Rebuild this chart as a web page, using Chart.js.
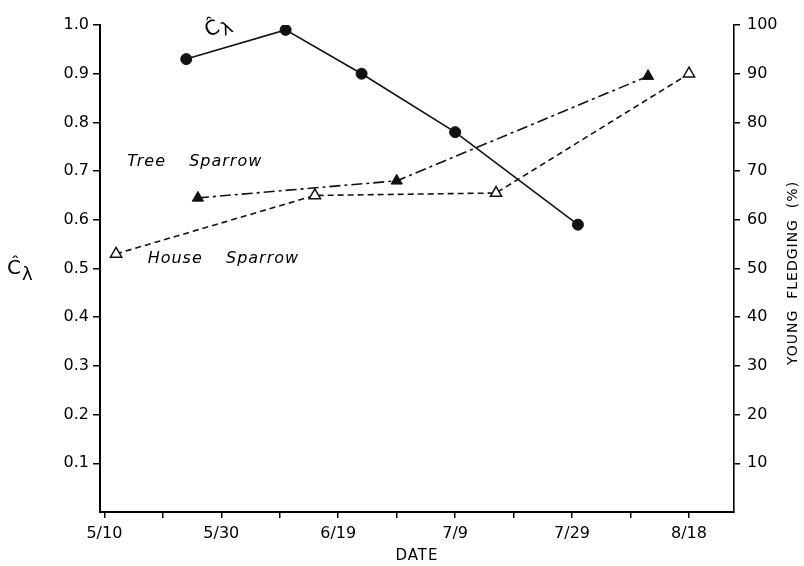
<!DOCTYPE html>
<html>
<head>
<meta charset="utf-8">
<script src="https://cdn.jsdelivr.net/npm/chart.js@4/dist/chart.umd.min.js"></script>
<style>
  html, body { margin: 0; padding: 0; background: #fff; }
  #wrap { width: 804px; height: 566px; position: relative; }
</style>
</head>
<body>
<div id="wrap"><canvas id="c" width="804" height="566"></canvas></div>
<script>
// ---- data (x = days after 5/10) ----
const xTickDays   = [0, 10, 20, 30, 40, 50, 60, 70, 80, 90, 100];
const xTickLabels = ['5/10', '', '5/30', '', '6/19', '', '7/9', '', '7/29', '', '8/18'];
const leftTicks   = [0.1, 0.2, 0.3, 0.4, 0.5, 0.6, 0.7, 0.8, 0.9, 1.0];
const rightTicks  = [10, 20, 30, 40, 50, 60, 70, 80, 90, 100];

const cDays     = [14, 31, 44, 60, 81];
const cValues   = [0.93, 0.99, 0.90, 0.78, 0.59];
const treeDays  = [16, 50, 93];
const treeValues= [64.5, 68, 89.5];
const houseDays = [2, 36, 67, 100];
const houseValues = [53, 65, 65.5, 90];

const toPts = (xs, ys) => xs.map((x, i) => ({ x: x, y: ys[i] }));

const FONT = '"DejaVu Sans", sans-serif';

const textPlugin = {
  id: 'texts',
  afterDraw(chart) {
    const ctx = chart.ctx;
    const xs = chart.scales.x, yl = chart.scales.y;
    ctx.save();
    ctx.fillStyle = '#000';
    // italic species labels (data-anchored)
    ctx.font = 'italic 16px ' + FONT;
    ctx.textBaseline = 'middle';
    ctx.textAlign = 'left';
    try { ctx.letterSpacing = '1px'; } catch (e) {}
    ctx.fillText('Tree', xs.getPixelForValue(3.9), yl.getPixelForValue(0.72));
    ctx.fillText('Sparrow', xs.getPixelForValue(14.5), yl.getPixelForValue(0.72));
    ctx.fillText('House', xs.getPixelForValue(7.4), yl.getPixelForValue(0.519));
    ctx.fillText('Sparrow', xs.getPixelForValue(20.8), yl.getPixelForValue(0.519));
    try { ctx.letterSpacing = '0px'; } catch (e) {}

    // C-hat lambda label
    const drawC = (x, y, rot, size) => {
      ctx.save();
      ctx.translate(x, y);
      ctx.rotate(rot);
      ctx.textAlign = 'left';
      ctx.textBaseline = 'alphabetic';
      ctx.font = size + 'px ' + FONT;
      ctx.fillText('\u0108', 0, 0);
      const w = ctx.measureText('\u0108').width;
      ctx.font = Math.round(size * 0.9) + 'px ' + FONT;
      ctx.fillText('\u03BB', w + 1, size * 0.3);
      ctx.restore();
    };
    drawC(xs.getPixelForValue(17.8), yl.getPixelForValue(0.975), -0.45, 20);
    drawC(7, 274, 0, 20);

    // x-axis title
    ctx.font = '15px ' + FONT;
    ctx.textAlign = 'center';
    ctx.textBaseline = 'middle';
    try { ctx.letterSpacing = '1px'; } catch (e) {}
    ctx.fillText('DATE', 417, 556);
    // right axis title
    ctx.save();
    ctx.translate(793, 273);
    ctx.rotate(-Math.PI / 2);
    ctx.font = '14px ' + FONT;
    ctx.fillText('YOUNG  FLEDGING  (%)', 0, 0);
    ctx.restore();
    ctx.restore();
  }
};

new Chart(document.getElementById('c'), {
  type: 'scatter',
  data: {
    datasets: [
      {
        label: 'C-hat lambda',
        data: toPts(cDays, cValues),
        yAxisID: 'y',
        showLine: true,
        borderColor: '#111',
        borderWidth: 1.6,
        pointStyle: 'circle',
        pointRadius: 5.5,
        pointBackgroundColor: '#111',
        pointBorderColor: '#111',
        pointBorderWidth: 1
      },
      {
        label: 'Tree Sparrow',
        data: toPts(treeDays, treeValues),
        yAxisID: 'y2',
        showLine: true,
        borderColor: '#111',
        borderWidth: 1.6,
        borderDash: [11, 4, 3, 4],
        pointStyle: 'triangle',
        pointRadius: 6.5,
        pointBackgroundColor: '#111',
        pointBorderColor: '#111',
        pointBorderWidth: 1
      },
      {
        label: 'House Sparrow',
        data: toPts(houseDays, houseValues),
        yAxisID: 'y2',
        showLine: true,
        borderColor: '#111',
        borderWidth: 1.6,
        borderDash: [6, 4],
        pointStyle: 'triangle',
        pointRadius: 6.5,
        pointBackgroundColor: '#fff',
        pointBorderColor: '#111',
        pointBorderWidth: 1.5
      }
    ]
  },
  options: {
    responsive: false,
    animation: false,
    devicePixelRatio: 1,
    layout: { padding: { top: 25, left: 0, right: 0, bottom: 0 } },
    plugins: { legend: { display: false }, tooltip: { enabled: false } },
    scales: {
      x: {
        type: 'linear',
        min: -0.75,
        max: 107.7,
        afterBuildTicks: s => { s.ticks = xTickDays.map(v => ({ value: v })); },
        afterFit: s => { s.height = 54; },
        ticks: {
          autoSkip: false, maxRotation: 0, padding: 6,
          color: '#000', font: { family: FONT, size: 16 },
          callback: (v, i) => xTickLabels[i]
        },
        grid: { drawOnChartArea: false, drawTicks: true, tickLength: 6, color: '#000', lineWidth: 1.5 },
        border: { display: true, color: '#000', width: 2 }
      },
      y: {
        position: 'left',
        min: 0, max: 1.0,
        afterBuildTicks: s => { s.ticks = leftTicks.map(v => ({ value: v })); },
        afterFit: s => { s.width = 100; },
        ticks: {
          padding: 4, color: '#000', font: { family: FONT, size: 16 },
          callback: v => Number(v).toFixed(1)
        },
        grid: { drawOnChartArea: false, drawTicks: true, tickLength: 7, color: '#000', lineWidth: 1.5 },
        border: { display: true, color: '#000', width: 2 }
      },
      y2: {
        position: 'right',
        min: 0, max: 100,
        afterBuildTicks: s => { s.ticks = rightTicks.map(v => ({ value: v })); },
        afterFit: s => { s.width = 70; },
        ticks: {
          padding: 7, color: '#000', font: { family: FONT, size: 16 },
          callback: v => String(v)
        },
        grid: { drawOnChartArea: false, drawTicks: true, tickLength: 6, color: '#000', lineWidth: 1.5 },
        border: { display: true, color: '#000', width: 1.6 }
      }
    }
  },
  plugins: [textPlugin]
});
</script>
</body>
</html>
